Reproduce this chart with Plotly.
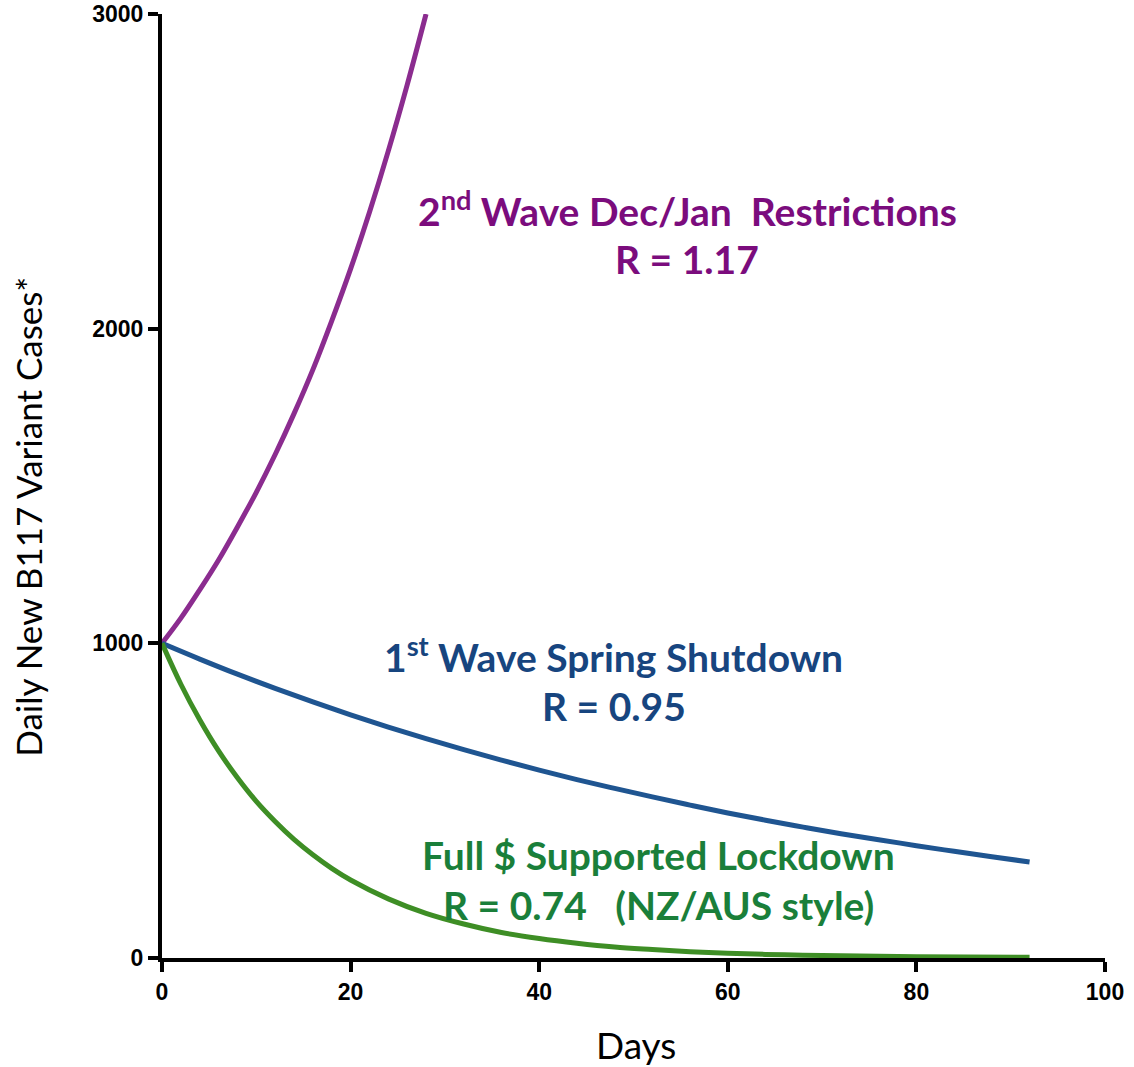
import plotly.graph_objects as go

# Data
days_purple = [0, 2, 4, 6, 8, 10, 12, 14, 16, 18, 20, 22, 24, 26, 28]
cases_purple = [1000, 1080, 1170, 1265, 1370, 1480, 1600, 1730, 1870, 2025, 2190, 2370, 2565, 2775, 3000]

days_blue = [0, 4, 8, 12, 16, 20, 24, 28, 32, 36, 40, 44, 48, 52, 56, 60, 64, 68, 72, 76, 80, 84, 88, 92]
cases_blue = [1000, 950, 902, 857, 814, 773, 734, 697, 662, 629, 597, 567, 539, 512, 486, 461, 438, 416, 395, 376, 357, 339, 322, 305]

days_green = [0, 2, 4, 6, 8, 10, 12, 14, 16, 18, 20, 24, 28, 32, 36, 40, 44, 48, 52, 56, 60, 66, 72, 80, 92]
cases_green = [1000, 870, 757, 658, 573, 498, 434, 377, 328, 285, 248, 188, 142, 108, 81, 62, 47, 35, 27, 20, 15, 10, 7, 4, 2]

x_ticks = [0, 20, 40, 60, 80, 100]
y_ticks = [0, 1000, 2000, 3000]

PURPLE_LINE = "#8B2C8F"
BLUE_LINE = "#1F5591"
GREEN_LINE = "#3E8E25"
PURPLE_TXT = "#7B0C7D"
BLUE_TXT = "#17457F"
GREEN_TXT = "#1A7F3A"

fig = go.Figure()
for xs, ys, c in [(days_purple, cases_purple, PURPLE_LINE),
                  (days_blue, cases_blue, BLUE_LINE),
                  (days_green, cases_green, GREEN_LINE)]:
    fig.add_trace(go.Scatter(x=xs, y=ys, mode="lines", line=dict(color=c, width=5, shape="spline"),
                             showlegend=False, cliponaxis=False, hoverinfo="skip"))

ann_font = "Lato, 'Open Sans', sans-serif"
anns = [
    ("2<sup>nd</sup> Wave Dec/Jan  Restrictions", 55.7, 2383, PURPLE_TXT),
    ("R = 1.17", 55.7, 2221, PURPLE_TXT),
    ("1<sup>st</sup> Wave Spring Shutdown", 47.9, 963, BLUE_TXT),
    ("R = 0.95", 47.9, 801, BLUE_TXT),
    ("Full $ Supported Lockdown", 52.6, 327, GREEN_TXT),
    ("R = 0.74   (NZ/AUS style)", 52.6, 168, GREEN_TXT),
]
for t, x, y, c in anns:
    fig.add_annotation(x=x, y=y, xref="x", yref="y", text="<b>" + t + "</b>", showarrow=False,
                       font=dict(family=ann_font, size=39, color=c), xanchor="center", yanchor="middle")

# axis titles
fig.add_annotation(x=-0.1415, y=0.467, xref="paper", yref="paper", text="Daily New B117 Variant Cases*",
                   textangle=-90, showarrow=False, xanchor="center", yanchor="middle",
                   font=dict(family=ann_font, size=35, color="black"))
fig.add_annotation(x=0.503, y=-0.092, xref="paper", yref="paper", text="Days",
                   showarrow=False, xanchor="center", yanchor="middle",
                   font=dict(family=ann_font, size=37, color="black"))

axis_common = dict(showline=True, linecolor="black", linewidth=4, ticks="outside", ticklen=10,
                   tickwidth=4, tickcolor="black", showgrid=False, zeroline=False, automargin=False,
                   tickfont=dict(family="'Liberation Sans', Arial, sans-serif", size=23, color="black"),
                   layer="below traces")

fig.update_xaxes(range=[0, 100], tickvals=x_ticks, ticktext=["<b>%d</b>" % v for v in x_ticks],
                 **axis_common)
fig.update_yaxes(range=[0, 3000], tickvals=y_ticks, ticktext=["<b>%d</b>" % v for v in y_ticks],
                 **axis_common)

fig.update_layout(width=1134, height=1067, plot_bgcolor="white", paper_bgcolor="white",
                  margin=dict(l=162, r=29, t=14, b=109), autosize=False)

# remove the default 8px body margin of the page so the figure sits at the window's corner
fig.write_html("out.html", config={"displayModeBar": False},
               post_script="document.body.style.margin='0px';")
